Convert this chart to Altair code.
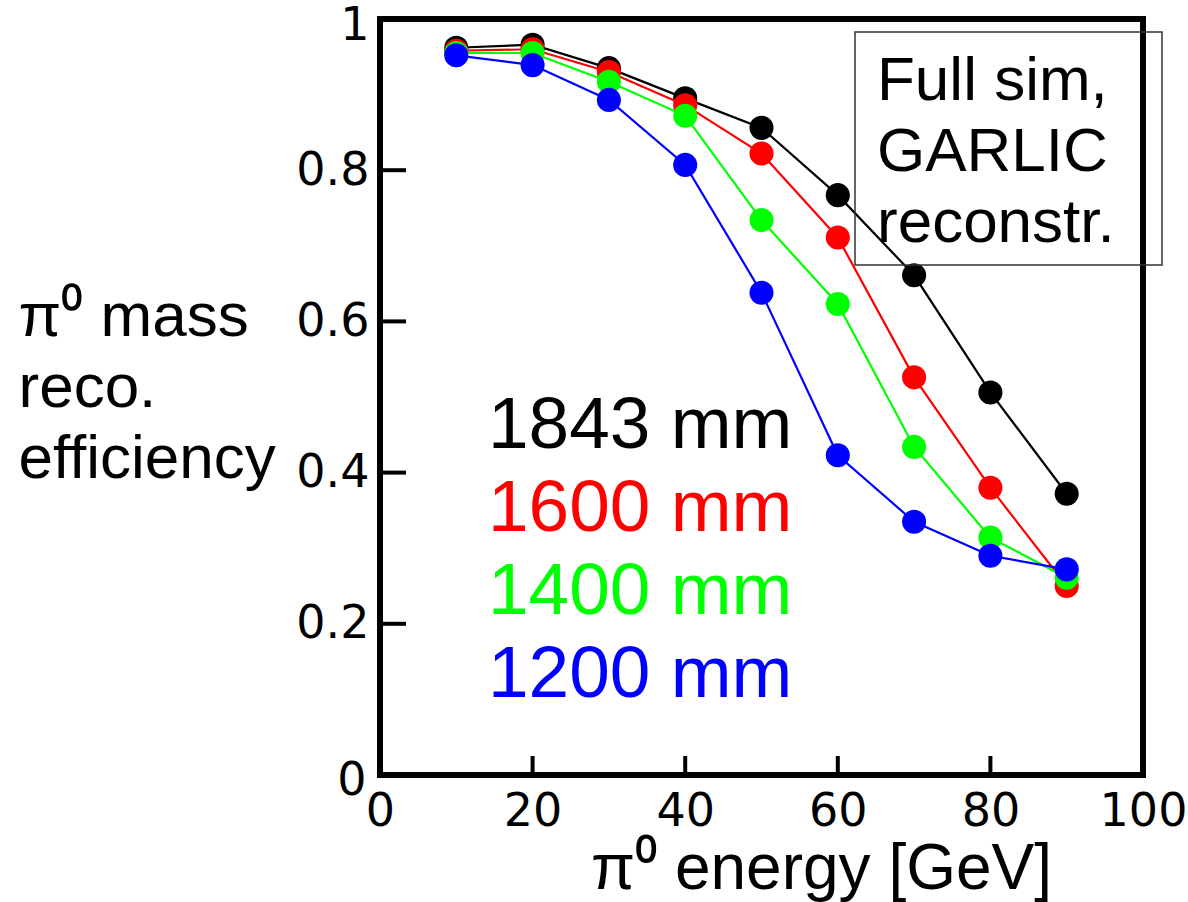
import altair as alt
import pandas as pd

energy = [10, 20, 30, 40, 50, 60, 70, 80, 90]
eff_1843 = [0.962, 0.966, 0.935, 0.895, 0.856, 0.767, 0.661, 0.506, 0.372]
eff_1600 = [0.958, 0.960, 0.930, 0.886, 0.822, 0.711, 0.526, 0.380, 0.250]
eff_1400 = [0.955, 0.955, 0.917, 0.872, 0.734, 0.623, 0.434, 0.314, 0.261]
eff_1200 = [0.952, 0.939, 0.893, 0.807, 0.638, 0.423, 0.335, 0.290, 0.272]

series_names = ["1843 mm", "1600 mm", "1400 mm", "1200 mm"]
series_values = [eff_1843, eff_1600, eff_1400, eff_1200]
series_colors = ["#000000", "#ff0000", "#00ff00", "#0000ff"]

x_ticks = [0, 20, 40, 60, 80, 100]
y_ticks = [0, 0.2, 0.4, 0.6, 0.8, 1]
x_inner_ticks = [20, 40, 60, 80]
y_inner_ticks = [0.2, 0.4, 0.6, 0.8]
box_lines = ["Full sim,", "GARLIC", "reconstr."]

FONT = "Liberation Sans"
TICKFONT = "DejaVu Sans"
W, H = 763, 756

xscale = alt.Scale(domain=[0, 100], nice=False, zero=False)
yscale = alt.Scale(domain=[0, 1], nice=False, zero=False)

x_axis = alt.Axis(
    values=x_ticks, title="π⁰ energy [GeV]", grid=False, domain=False, ticks=False,
    labelFont=TICKFONT, labelFontSize=46, labelColor="black", labelPadding=14,
    labelFlush=False, labelOverlap=False,
    titleFont=FONT, titleFontSize=64, titleFontWeight="normal", titleColor="black",
    titleBaseline="alphabetic", titleAlign="center", titleX=441, titleY=113,
)
y_axis = alt.Axis(
    values=y_ticks, labelExpr="format(datum.value, '.1~f')",
    title=["π⁰ mass", "reco.", "efficiency"], grid=False, domain=False, ticks=False,
    labelFont=TICKFONT, labelFontSize=46, labelColor="black",
    labelPadding={"condition": {"test": "datum.value == 0", "value": 14}, "value": 11},
    labelOffset={"condition": {"test": "datum.value == 1", "value": 6},
                 "value": {"expr": "datum.value == 0 ? 5 : 0"}} if False else
    {"condition": [{"test": "datum.value == 1", "value": 6},
                   {"test": "datum.value == 0", "value": 5}], "value": 0},
    labelFlush=False, labelOverlap=False,
    titleFont=FONT, titleFontSize=62, titleFontWeight="normal", titleColor="black",
    titleAngle=0, titleAlign="left", titleBaseline="alphabetic",
    titleX=-362, titleY=316, titleLineHeight=71,
)

rows = []
for name, vals in zip(series_names, series_values):
    for e, v in zip(energy, vals):
        rows.append({"energy": e, "eff": v, "series": name})
df = pd.DataFrame(rows)

X = alt.X("energy:Q", scale=xscale, axis=x_axis)
Y = alt.Y("eff:Q", scale=yscale, axis=y_axis)

layers = []
for i, (name, col) in enumerate(zip(series_names, series_colors)):
    base = alt.Chart(df).transform_filter(alt.datum.series == name)
    layers.append(base.mark_line(color=col, strokeWidth=2.2).encode(x=X, y=Y))
    layers.append(base.mark_circle(color=col, size=580, opacity=1).encode(x=X, y=Y))

# inward ticks
ytick_layer = alt.Chart(pd.DataFrame({"eff": y_inner_ticks})).mark_rule(
    color="black", strokeWidth=4
).encode(y=Y, x=alt.value(0), x2=alt.value(26))
xtick_layer = alt.Chart(pd.DataFrame({"energy": x_inner_ticks})).mark_rule(
    color="black", strokeWidth=4
).encode(x=X, y=alt.value(H), y2=alt.value(H - 19))
layers += [ytick_layer, xtick_layer]

# legend text
for i, (name, col) in enumerate(zip(series_names, series_colors)):
    layers.append(
        alt.Chart(pd.DataFrame({"label": [name]})).mark_text(
            align="left", baseline="alphabetic", font=FONT, fontSize=73, color=col
        ).encode(x=alt.value(108), y=alt.value(429 + 83 * i), text="label:N")
    )

# annotation box
layers.append(
    alt.Chart(pd.DataFrame({"a": [0]})).mark_rect(
        fillOpacity=0, stroke="#333333", strokeWidth=1.5
    ).encode(x=alt.value(475), x2=alt.value(782), y=alt.value(13), y2=alt.value(246))
)
for i, line in enumerate(box_lines):
    layers.append(
        alt.Chart(pd.DataFrame({"label": [line]})).mark_text(
            align="left", baseline="alphabetic", font=FONT, fontSize=62, color="black"
        ).encode(x=alt.value(497), y=alt.value(81 + 71 * i), text="label:N")
    )

chart = alt.layer(*layers).properties(
    width=W, height=H,
    padding={"left": 380, "top": 19, "right": 45, "bottom": 127},
    autosize=alt.AutoSizeParams(type="none"),
    background="white",
).configure_view(stroke="black", strokeWidth=6)

chart.save("out.html", embed_options={"renderer": "svg", "actions": False})
